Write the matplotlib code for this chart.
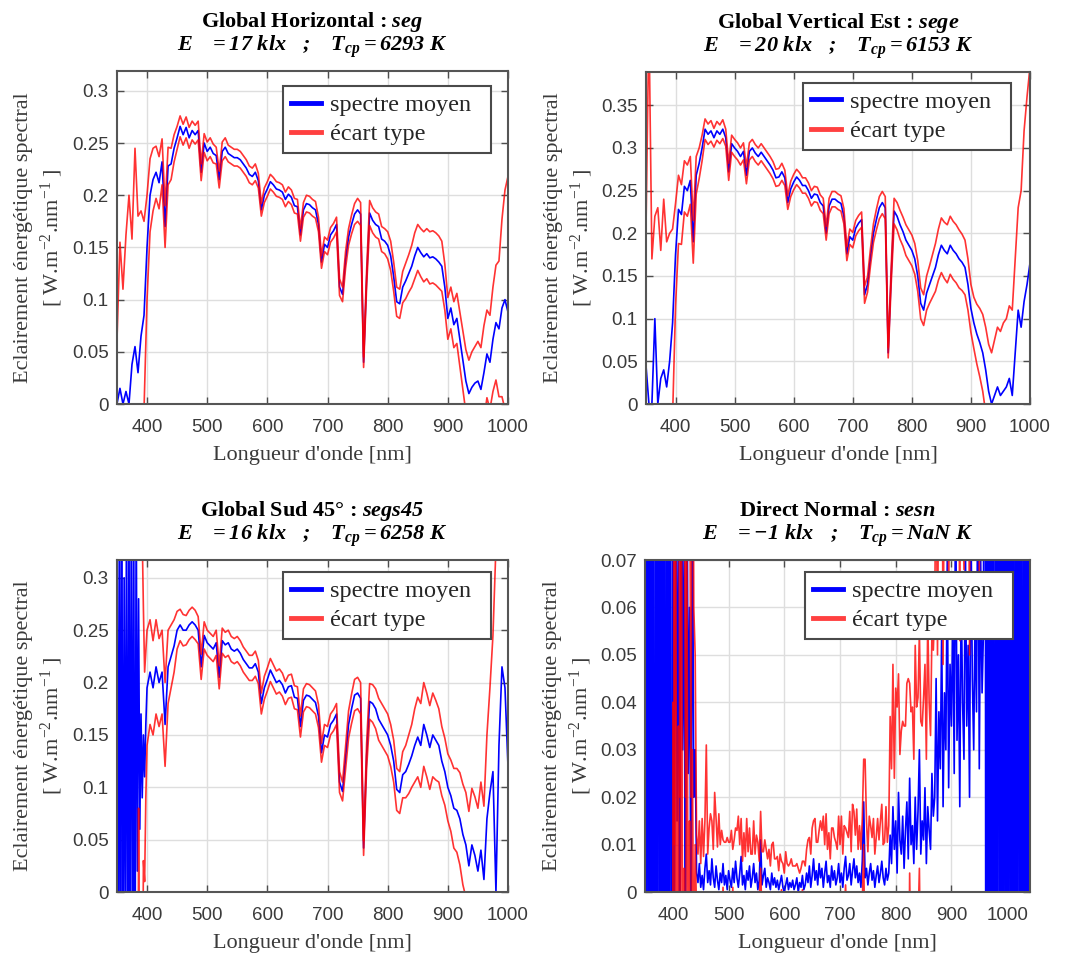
import numpy as np
import matplotlib.pyplot as plt
from matplotlib.lines import Line2D
from matplotlib.ticker import FuncFormatter, MultipleLocator

plt.rcParams['mathtext.fontset'] = 'custom'
plt.rcParams['mathtext.rm'] = 'Liberation Serif:bold:italic'
plt.rcParams['mathtext.it'] = 'Liberation Serif:bold:italic'
plt.rcParams['mathtext.bf'] = 'Liberation Serif:bold'

# longueurs d'onde (nm)
wl = np.arange(350, 1001, 5)
wl_gs = np.concatenate([np.arange(350, 400, 2), np.arange(400, 1001, 5)])
wl_dn = np.arange(350, 1040.1, 2.5)

# Global Horizontal (x 1e-3 W.m-2.nm-1)
gh_mean = [0, 15, 0, 12, 0, 38, 55, 30, 65, 85,
           150, 200, 215, 222, 212, 232, 170, 228, 230, 245,
           255, 266, 258, 265, 255, 262, 258, 262, 222, 250,
           242, 246, 240, 238, 215, 242, 246, 240, 238, 236,
           236, 234, 230, 226, 220, 218, 222, 214, 186, 200,
           206, 213, 210, 206, 205, 203, 196, 201, 198, 190,
           189, 162, 186, 192, 191, 188, 186, 172, 136, 153,
           150, 162, 166, 172, 112, 105, 138, 160, 172, 182,
           186, 182, 40, 120, 183, 176, 172, 170, 158, 156,
           152, 142, 122, 98, 96, 112, 118, 125, 132, 142,
           150, 145, 141, 144, 140, 141, 139, 136, 132, 112,
           82, 92, 76, 82, 62, 42, 22, 10, 16, 20,
           22, 14, 30, 48, 40, 62, 78, 72, 92, 100,
           88]
gh_std = [60, 140, 110, 150, 200, 120, 190, 150, 120, 90,
          50, 35, 30, 25, 25, 22, 20, 18, 15, 13,
          11, 10, 10, 10, 10, 9, 9, 9, 8, 9,
          9, 9, 9, 8, 8, 9, 9, 8, 8, 8,
          8, 8, 8, 8, 8, 8, 8, 7, 6, 7,
          7, 7, 7, 7, 7, 7, 7, 7, 7, 7,
          7, 6, 7, 8, 8, 8, 8, 7, 6, 7,
          7, 7, 7, 7, 8, 7, 8, 8, 9, 10,
          11, 11, 5, 8, 12, 12, 12, 12, 12, 12,
          13, 14, 14, 14, 14, 15, 17, 18, 20, 22,
          22, 23, 24, 24, 25, 25, 25, 25, 24, 22,
          20, 20, 22, 24, 26, 28, 30, 32, 34, 35,
          38, 40, 45, 42, 45, 50, 55, 65, 85, 105,
          130]

# Global Vertical Est
gv_mean = [45, 0, 0, 100, 0, 30, 40, 20, 50, 95,
           175, 228, 222, 255, 250, 262, 190, 268, 282, 300,
           322, 316, 320, 312, 320, 316, 322, 312, 272, 305,
           300, 296, 290, 296, 268, 296, 300, 294, 290, 295,
           290, 285, 280, 274, 265, 266, 272, 265, 236, 252,
           260, 266, 262, 256, 256, 250, 241, 246, 245, 236,
           232, 200, 232, 240, 240, 237, 235, 220, 176, 196,
           192, 206, 212, 216, 128, 140, 172, 200, 216, 230,
           236, 230, 60, 150, 226, 220, 210, 202, 192, 186,
           180, 170, 150, 118, 110, 130, 140, 150, 160, 175,
           186, 180, 176, 186, 180, 176, 170, 166, 160, 140,
           112, 95, 82, 72, 60, 40, 15, 0, 10, 20,
           10, 15, 20, 30, 10, 60, 110, 90, 120, 140,
           165]
gv_std = [160, 450, 170, 120, 230, 150, 200, 170, 150, 110,
          60, 40, 35, 30, 30, 28, 25, 22, 18, 15,
          12, 12, 12, 11, 11, 11, 11, 10, 10, 10,
          10, 10, 10, 10, 10, 10, 10, 10, 10, 10,
          10, 10, 10, 10, 10, 10, 10, 9, 8, 9,
          9, 9, 9, 9, 9, 9, 9, 9, 9, 9,
          9, 8, 9, 9, 9, 9, 9, 9, 8, 9,
          9, 9, 9, 9, 10, 9, 10, 11, 12, 13,
          13, 13, 6, 10, 15, 16, 17, 17, 18, 18,
          18, 18, 18, 18, 18, 20, 22, 25, 28, 30,
          32, 33, 34, 34, 34, 34, 34, 33, 32, 30,
          28, 30, 35, 40, 45, 50, 55, 60, 65, 70,
          75, 80, 80, 85, 100, 110, 120, 160, 200, 220,
          230]

# Global Sud 45 (pas de 2 nm sous 400 nm, puis 5 nm)
gs_mean = [420, -150, 380, -90, 450, -120, 300, -60, 410, -140,
           360, -100, 440, -80, 330, -130, 390, 20, 280, 60,
           170, 90, 150, 110, 160,
           195, 210, 195, 215, 200, 210, 160, 215, 225, 235,
           250, 255, 250, 250, 255, 258, 255, 250, 215, 245,
           238, 235, 232, 238, 205, 240, 236, 238, 232, 230,
           232, 228, 222, 218, 214, 214, 218, 210, 180, 195,
           203, 212, 206, 200, 202, 198, 190, 196, 197, 186,
           185, 158, 183, 188, 187, 184, 181, 168, 133, 150,
           148, 160, 164, 170, 105, 96, 128, 160, 175, 188,
           190, 185, 42, 130, 182, 180, 175, 165, 160, 155,
           150, 140, 125, 98, 95, 112, 115, 122, 130, 140,
           148, 140, 160, 150, 138, 150, 145, 140, 125, 115,
           100, 92, 80, 78, 70, 55, 45, 25, 45, 35,
           20, 40, 12, 70, 95, 115, 0, 140, 215, 195,
           120]
gs_std = [520, 540, 510, 530, 560, 520, 540, 510, 530, 550,
          520, 540, 560, 510, 530, 540, 500, 350, 200, 300,
          200, 250, 120, 100, 70,
          55, 50, 45, 45, 42, 40, 40, 35, 30, 25,
          18, 15, 15, 14, 14, 14, 14, 13, 12, 13,
          12, 12, 12, 12, 11, 12, 12, 12, 12, 12,
          12, 12, 12, 12, 12, 12, 12, 11, 10, 11,
          11, 11, 11, 11, 11, 11, 11, 11, 11, 11,
          11, 10, 11, 11, 11, 11, 11, 11, 9, 10,
          10, 10, 10, 10, 10, 9, 11, 13, 14, 15,
          15, 15, 7, 12, 17, 18, 19, 20, 20, 20,
          20, 20, 20, 20, 20, 22, 25, 28, 30, 35,
          38, 40, 40, 40, 40, 40, 38, 35, 33, 32,
          32, 34, 38, 40, 44, 48, 50, 52, 54, 56,
          60, 65, 70, 80, 100, 130, 330, 300, 300, 300,
          300]

# Direct Normal (x 1e-4 W.m-2.nm-1), pas de 2.5 nm
dn_mean = [2500, -1800, 3100, -2200, 2700, -1500, 2900, -2600, 2200, -1900,
           3300, -2100, 2600, -1700, 2800, -2400, 2400, -2000, 3000, -1600,
           900, -300, 1200, 150, 800, -500, 1500, 300, 700, -200,
           1100, 250, 600, -150, 900, 200,
           300, 40, 20, 60, 10, 35, 5, 50, 80, 20,
           45, 15, 70, 30, 10, 55, 25, 5, 40, 20,
           60, 15, 35, 5, 45, 25, 10, 50, 20, 65,
           30, 10, 40, 75, 15, 35, 5, 45, 25, 55,
           10, 30, 60, 20, 40, 5, 25, 110, 15, 35,
           50, 10, 30, 20, 5, 40, 15, 30, 10, 25,
           5, 20, 35, 10, 0, 15, 30, 5, 20, 10,
           25, 5, 15, 30, 0, 20, 10, 35, 5, 15,
           40, 20, 55, 10, 35, 70, 25, 45, 15, 60,
           30, 50, 10, 40, 65, 20, 35, 10, 55, 25,
           45, 15, 30, 60, 20, 40, 10, 50, 75, 25,
           35, 60, 15, 45, 70, 30, 55, 20, 40, 10,
           65, 190, 30, 50, 15, 40, 60, 25, 45, 10,
           35, 55, 20, 40, 65, 30, 15, 50, 25, 40,
           120, 60, 180, 90, 150, 40, 210, 110, 80, 160,
           50, 130, 190, 70, 240, 100, 140, 60, 200, 90,
           170, 300, 80, 150, 110, 220, 60, 180, 130, 90,
           250, 160,
           200, 450, 150, 380, 260, 550, 180, 420, 300, 700,
           220, 480, 350, 600, 250, 900, 320, 500, 180, 650,
           400, 280, 750, 350, 520, 200, 800, 450, 300, 600,
           380, 950, 260, 700, 420, 550,
           2600, -1900, 3000, -2300, 2500, -1700, 2800, -2500, 2300, -2000,
           3200, -1800, 2700, -2200, 2900, -1600, 2400, -2100, 3100, -1900,
           2600, -2400, 2800, -1700, 3000, -2000, 2500, -2300, 2700, -1800,
           2900, -2100, 2600]
dn_std = [6000, 5500, 6200, 5800, 6100, 5600, 6300, 5900, 6000, 5700,
          6400, 5800, 6100, 5600, 6200, 5900, 6000, 5700, 6300, 5800,
          500, 400, 300, 600, 450, 700, 350, 550, 650, 400,
          300, 500, 450, 350, 600, 400,
          200, 80, 60, 90, 50, 120, 70, 100, 230, 60,
          90, 150, 80, 60, 200, 100, 70, 160, 60, 110,
          50, 90, 70, 110, 60, 80, 120, 40, 90, 70,
          100, 150, 60, 80, 50, 90, 70, 110, 60, 80,
          70, 50, 90, 60, 80, 100, 40, 60, 70, 50,
          60, 80, 40, 70, 50, 60, 90, 40, 60, 50,
          40, 60, 30, 50, 40, 70, 30, 50, 40, 60,
          30, 50, 40, 30, 50, 20, 40, 30, 60, 40,
          50, 90, 60, 70, 100, 80, 130, 60, 90, 70,
          120, 80, 150, 60, 100, 70, 90, 60, 80, 110,
          70, 90, 60, 100, 80, 120, 70, 90, 60, 100,
          80, 110, 70, 140, 100, 90, 120, 70, 100, 80,
          90, 90, 250, 100, 70, 120, 80, 90, 110, 70,
          80, 100, 90, 110, 120, 70, 90, 130, 80, 100,
          250, 200, 300, 150, 280, 350, 250, 180, 260, 200,
          300, 220, 250, 380, 200, 280, 250, 220, 320, 300,
          240, 250, 280, 200, 300, 260, 220, 400, 270, 240,
          300, 350,
          400, 500, 350, 600, 450, 700, 300, 550, 500, 800,
          350, 650, 400, 750, 500, 900, 450, 600, 350, 800,
          500, 400, 900, 450, 650, 300, 1000, 550, 400, 700,
          500, 1100, 350, 800, 600, 650,
          6000, 5600, 6200, 5800, 6100, 5500, 6300, 5900, 6000, 5700,
          6400, 5800, 6100, 5600, 6200, 5900, 6000, 5700, 6300, 5800,
          6100, 5600, 6200, 5900, 6000, 5700, 6300, 5800, 6100, 5600,
          6200, 5900, 6000]

titles = ['Global Horizontal : $seg$', 'Global Vertical Est : $sege$',
          'Global Sud 45° : $segs45$', 'Direct Normal : $sesn$']
sous_titres = [r'$E\ \ \ =17\ klx\ \ \ ;\ \ \ T_{cp}=6293\ K$',
               r'$E\ \ \ =20\ klx\ \ \ ;\ \ \ T_{cp}=6153\ K$',
               r'$E\ \ \ =16\ klx\ \ \ ;\ \ \ T_{cp}=6258\ K$',
               r'$E\ \ \ ={-}1\ klx\ \ \ ;\ \ \ T_{cp}=NaN\ K$']

panels = [
    (wl, np.array(gh_mean) / 1000, np.array(gh_std) / 1000, 0.319, 0.05, 1000),
    (wl, np.array(gv_mean) / 1000, np.array(gv_std) / 1000, 0.389, 0.05, 1000),
    (wl_gs, np.array(gs_mean) / 1000, np.array(gs_std) / 1000, 0.317, 0.05, 1000),
    (wl_dn, np.array(dn_mean) / 10000, np.array(dn_std) / 10000, 0.07, 0.01, 1041),
]
positions = [[0.1094, 0.5774, 0.3658, 0.3483],
             [0.6043, 0.5774, 0.3592, 0.3473],
             [0.1094, 0.0669, 0.3658, 0.3473],
             [0.6034, 0.0669, 0.3601, 0.3473]]
leg_anchor = [(0.9565, 0.955), (0.9505, 0.967), (0.9565, 0.964), (0.956, 0.964)]

gris = '#3a3a3a'
fig = plt.figure(figsize=(10.69, 9.56), dpi=100)

for i, (x, m, s, ymax, ystep, xmax) in enumerate(panels):
    ax = fig.add_axes(positions[i])
    ax.plot(x, m, color='#0000ff', lw=1.2)
    ax.plot(x, m + s, color='#ff0000', lw=1.2, alpha=0.8)
    ax.plot(x, m - s, color='#ff0000', lw=1.2, alpha=0.8)
    ax.set_xlim(350, xmax)
    ax.set_ylim(0, ymax)
    ax.yaxis.set_major_locator(MultipleLocator(ystep))
    ax.set_xticks(np.arange(400, 1001, 100))
    ax.yaxis.set_major_formatter(FuncFormatter(lambda v, p: '%g' % round(v, 4)))
    ax.grid(True, color='#dedede', lw=1)
    ax.set_axisbelow(True)
    ax.tick_params(direction='in', top=True, right=True, length=5, width=1,
                   color='#4d4d4d', labelsize=13.5, labelcolor=gris)
    ax.tick_params(axis='x', pad=11)
    ax.tick_params(axis='y', pad=6)
    for lab in ax.get_xticklabels() + ax.get_yticklabels():
        lab.set_family('Liberation Sans')
    for sp in ax.spines.values():
        sp.set_color('#555555')
        sp.set_linewidth(1.5)

    ax.set_xlabel("Longueur d'onde [nm]", family='Liberation Serif', fontsize=16, color=gris)
    ax.xaxis.set_label_coords(0.5, -0.125)
    ax.set_ylabel('Eclairement énergétique spectral\n'
                  r'[ W.m$^{\mathregular{-2}}$.nm$^{\mathregular{-1}}$ ]',
                  family='Liberation Serif', fontsize=16, color=gris, linespacing=1.3)
    ax.yaxis.set_label_coords(-0.133, 0.5)

    ax.annotate(titles[i], xy=(0.5, 1), xycoords='axes fraction', xytext=(0, 44),
                textcoords='offset pixels', ha='center', va='baseline',
                family='Liberation Serif', fontweight='bold', fontsize=16)
    ax.annotate(sous_titres[i], xy=(0.5, 1), xycoords='axes fraction', xytext=(0, 20),
                textcoords='offset pixels', ha='center', va='baseline', fontsize=16)

    handles = [Line2D([], [], color='#0000ff', lw=3.5),
               Line2D([], [], color='#ff4040', lw=3.5)]
    leg = ax.legend(handles, ['spectre moyen  ', 'écart type'], loc='upper right',
                    bbox_to_anchor=leg_anchor[i], borderaxespad=0,
                    prop={'family': 'Liberation Serif', 'size': 17.5},
                    handlelength=1.25, handletextpad=0.35, borderpad=0.33,
                    labelspacing=0.3, fancybox=False, framealpha=1)
    leg.get_frame().set_edgecolor('#4a4a4a')
    leg.get_frame().set_linewidth(1.5)
    for t in leg.get_texts():
        t.set_color('#262626')

fig.savefig('out.png', dpi=100)
